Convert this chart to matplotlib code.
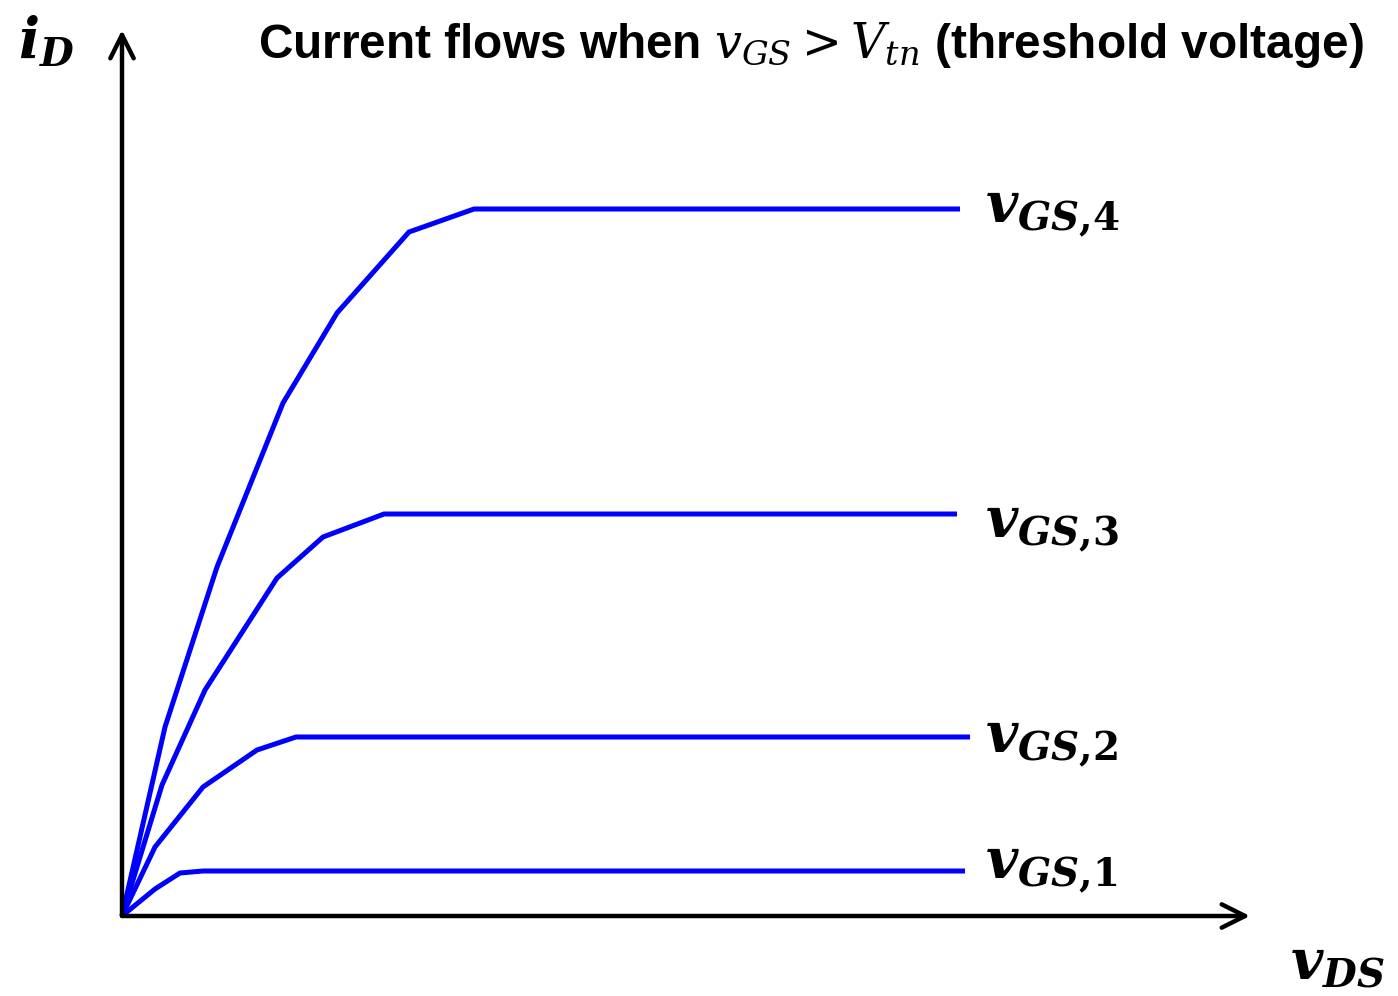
import matplotlib
matplotlib.use("Agg")
import matplotlib.pyplot as plt

plt.rcParams['mathtext.fontset'] = 'custom'
plt.rcParams['mathtext.rm'] = 'DejaVu Serif'
plt.rcParams['mathtext.it'] = 'DejaVu Serif:italic'
plt.rcParams['mathtext.bf'] = 'DejaVu Serif:bold'
plt.rcParams['mathtext.bfit'] = 'DejaVu Serif:italic:bold'

# Data (arbitrary units): v_DS on x, i_D on y
vds_1 = [0, 0.33, 0.58, 0.81, 8.43]
id_1 = [0, 0.27, 0.43, 0.45, 0.45]
vds_2 = [0, 0.33, 0.81, 1.35, 1.74, 8.48]
id_2 = [0, 0.69, 1.29, 1.66, 1.79, 1.79]
vds_3 = [0, 0.40, 0.83, 1.55, 2.01, 2.62, 8.35]
id_3 = [0, 1.31, 2.26, 3.38, 3.79, 4.02, 4.02]
vds_4 = [0, 0.43, 0.95, 1.61, 2.15, 2.87, 3.52, 8.38]
id_4 = [0, 1.89, 3.49, 5.13, 6.03, 6.84, 7.07, 7.07]
curve_labels = [r'$\mathbfit{v}_{\mathbfit{GS}\mathbf{{,}1}}$',
                r'$\mathbfit{v}_{\mathbfit{GS}\mathbf{{,}2}}$',
                r'$\mathbfit{v}_{\mathbfit{GS}\mathbf{{,}3}}$',
                r'$\mathbfit{v}_{\mathbfit{GS}\mathbf{{,}4}}$']
title = r'Current flows when $v_{GS} > V_{tn}$ (threshold voltage)'
xlabel = r'$\mathbfit{v}_{\mathbfit{DS}}$'
ylabel = r'$\mathbfit{i}_{\mathbfit{D}}$'

fig = plt.figure(figsize=(13.98, 9.96), dpi=100)
ax = fig.add_axes([0, 0, 1, 1])
ax.set_xlim(-1.22, 12.76)
ax.set_ylim(-0.80, 9.16)
ax.axis('off')

blue = '#0000ff'
curves = [(vds_1, id_1), (vds_2, id_2), (vds_3, id_3), (vds_4, id_4)]
for (xs, ys) in curves:
    ax.plot(xs, ys, color=blue, lw=3.6, solid_joinstyle='miter', solid_capstyle='butt', zorder=3)

label_y = [0.38, 1.64, 3.79, 6.94]
for lab, yb in zip(curve_labels, label_y):
    ax.text(8.63, yb, lab, fontsize=40, va='baseline', ha='left', color='black')

# axes arrows
arrow_kw = dict(arrowstyle='->', lw=3.2, color='black', mutation_scale=42,
                shrinkA=0, shrinkB=0)
ax.annotate('', xy=(0, 8.86), xytext=(0, 0), arrowprops=arrow_kw)
ax.annotate('', xy=(11.28, 0), xytext=(0, 0), arrowprops=arrow_kw)

ax.text(11.68, -0.64, xlabel, fontsize=40, va='baseline', ha='left')
ax.text(-1.04, 8.58, ylabel, fontsize=40, va='baseline', ha='left')
ax.text(1.36, 8.58, title, fontsize=34.4, va='baseline', ha='left',
        family='Liberation Sans', weight='bold')

fig.savefig('out.png', dpi=100)
